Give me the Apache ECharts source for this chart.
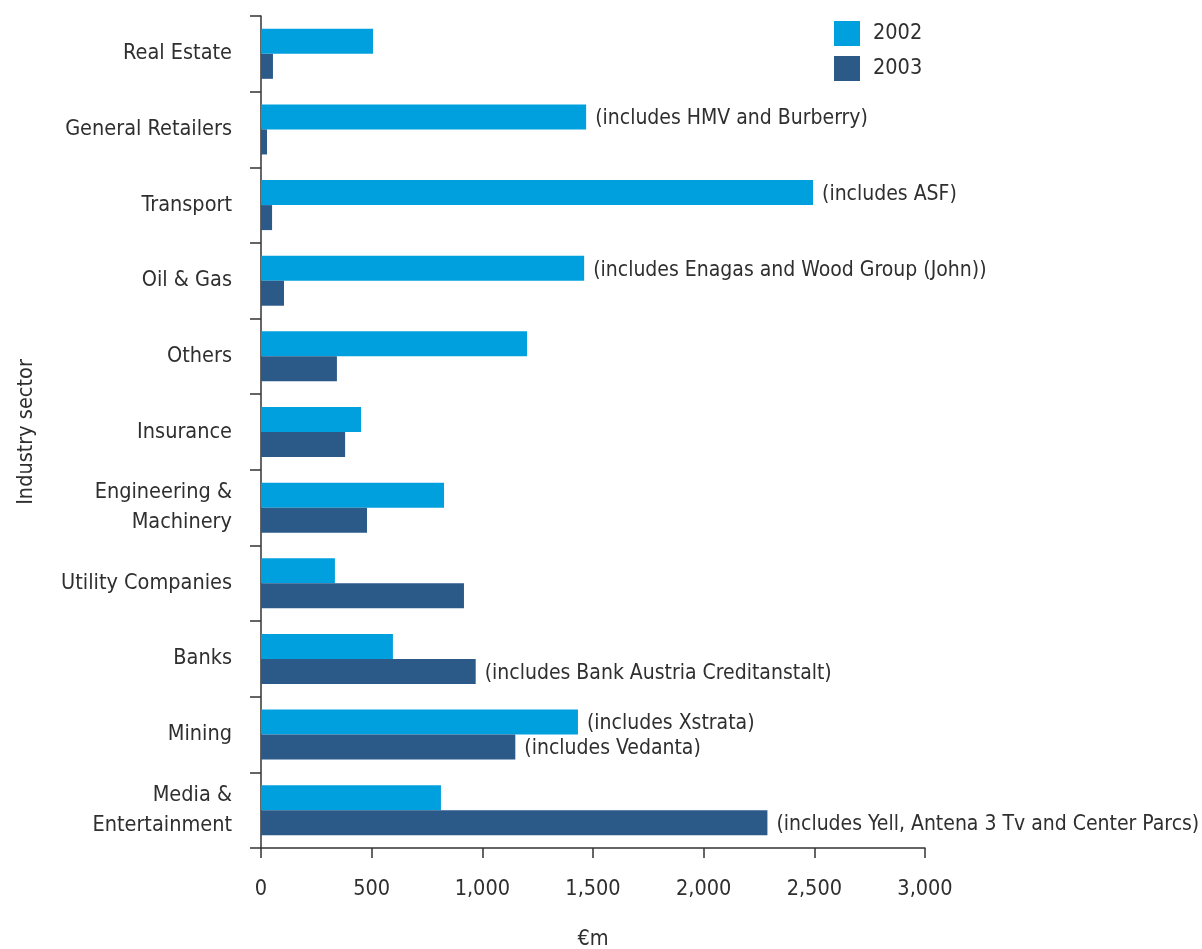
<!DOCTYPE html>
<html>
<head>
<meta charset="utf-8">
<script src="https://cdn.jsdelivr.net/npm/echarts@6/dist/echarts.min.js"></script>
<style>
  html, body { margin: 0; padding: 0; background: #ffffff; }
  #chart { width: 1202px; height: 949px; }
</style>
</head>
<body>
<div id="chart"></div>
<script>
// Industry sectors, listed top to bottom
const sectors = [
  'Real Estate',
  'General Retailers',
  'Transport',
  'Oil & Gas',
  'Others',
  'Insurance',
  'Engineering &\nMachinery',
  'Utility Companies',
  'Banks',
  'Mining',
  'Media &\nEntertainment'
];

// Values in €m
const values2002 = [506, 1469, 2494, 1460, 1202, 452, 827, 334, 596, 1432, 813];
const values2003 = [54, 27, 50, 104, 343, 380, 479, 917, 970, 1149, 2288];

// Notes shown next to selected bars
const notes2002 = ['', '(includes HMV and Burberry)', '(includes ASF)',
  '(includes Enagas and Wood Group (John))', '', '', '', '', '', '(includes Xstrata)', ''];
const notes2003 = ['', '', '', '', '', '', '', '',
  '(includes Bank Austria Creditanstalt)', '(includes Vedanta)',
  '(includes Yell, Antena 3 Tv and Center Parcs)'];

const xTicks = { min: 0, max: 3000, interval: 500 };

const FONT = '"DejaVu Sans Condensed", "Liberation Sans Narrow", sans-serif';
const TEXT = '#2f2f2f';
const FS = 21.5;
const NOTE_FS = 21;

function withNotes(values, notes) {
  return values.map((v, i) => notes[i]
    ? { value: v, label: { show: true, position: 'right', distance: 9, offset: [0, 2], formatter: notes[i] } }
    : { value: v });
}

const chart = echarts.init(document.getElementById('chart'), null, { renderer: 'canvas' });

chart.setOption({
  animation: false,
  textStyle: { fontFamily: FONT, color: TEXT },
  grid: { left: 261, right: 277, top: 16, bottom: 101, containLabel: false, outerBoundsMode: 'none' },
  legend: {
    orient: 'vertical',
    left: 834,
    top: 21,
    padding: 0,
    itemWidth: 26,
    itemHeight: 25,
    itemGap: 10,
    icon: 'rect',
    textStyle: { fontFamily: FONT, fontSize: FS, color: TEXT, padding: [2, 0, 0, 8] },
    data: ['2002', '2003']
  },
  xAxis: {
    type: 'value',
    min: xTicks.min,
    max: xTicks.max,
    interval: xTicks.interval,
    name: '€m',
    nameLocation: 'middle',
    nameGap: 80,
    nameTextStyle: { fontFamily: FONT, fontSize: FS, color: TEXT },
    axisLine: { show: true, lineStyle: { color: '#333333', width: 1.5 } },
    axisTick: { show: true, length: 10, lineStyle: { color: '#333333', width: 1.5 } },
    axisLabel: {
      margin: 30,
      fontFamily: FONT, fontSize: FS, color: TEXT,
      formatter: v => v.toLocaleString('en-US')
    },
    splitLine: { show: false }
  },
  yAxis: {
    type: 'category',
    inverse: true,
    data: sectors,
    name: 'Industry sector',
    nameLocation: 'middle',
    nameGap: 224,
    nameRotate: 90,
    nameTextStyle: { fontFamily: FONT, fontSize: FS, color: TEXT },
    axisLine: { show: true, lineStyle: { color: '#333333', width: 1.5 } },
    axisTick: { show: true, length: 11, lineStyle: { color: '#333333', width: 1.5 } },
    axisLabel: {
      margin: 29,
      fontFamily: FONT, fontSize: FS, color: TEXT, lineHeight: 30
    }
  },
  series: [
    {
      name: '2002',
      type: 'bar',
      barWidth: 25,
      barGap: '0%',
      itemStyle: { color: '#009FDD' },
      label: { fontFamily: FONT, fontSize: NOTE_FS, color: TEXT },
      data: withNotes(values2002, notes2002)
    },
    {
      name: '2003',
      type: 'bar',
      barWidth: 25,
      barGap: '0%',
      itemStyle: { color: '#2B5988' },
      label: { fontFamily: FONT, fontSize: NOTE_FS, color: TEXT },
      data: withNotes(values2003, notes2003)
    }
  ]
});
</script>
</body>
</html>
